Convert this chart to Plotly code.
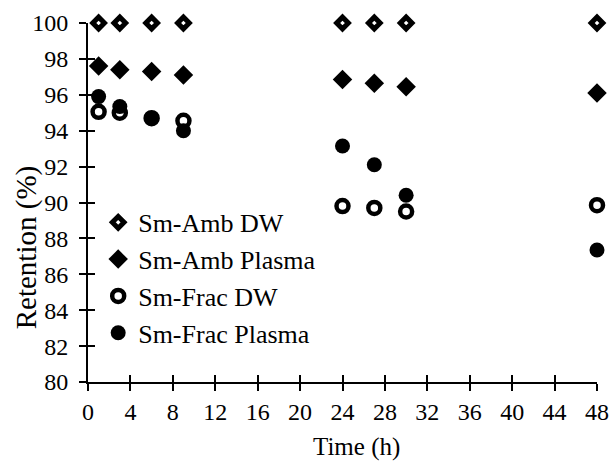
import plotly.graph_objects as go

time_h = [1, 3, 6, 9, 24, 27, 30, 48]
amb_dw = [100, 100, 100, 100, 100, 100, 100, 100]
amb_plasma = [97.6, 97.4, 97.3, 97.1, 96.85, 96.65, 96.45, 96.1]
frac_dw = [95.05, 95.0, 94.7, 94.55, 89.8, 89.7, 89.5, 89.85]
frac_plasma = [95.9, 95.35, 94.7, 94.0, 93.15, 92.1, 90.4, 87.35]

x_ticks = list(range(0, 49, 4))
y_ticks = list(range(80, 101, 2))

font = "Liberation Serif, Times New Roman, serif"
tick_size = 24
text_size = 26

fig = go.Figure()
fig.add_trace(go.Scatter(x=time_h, y=amb_dw, mode="markers", name="Sm-Amb DW",
                         marker=dict(symbol="diamond", size=9, color="white", line=dict(width=5, color="black"))))
fig.add_trace(go.Scatter(x=time_h, y=amb_plasma, mode="markers", name="Sm-Amb Plasma",
                         marker=dict(symbol="diamond", size=15, color="black")))
fig.add_trace(go.Scatter(x=time_h, y=frac_dw, mode="markers", name="Sm-Frac DW",
                         marker=dict(symbol="circle", size=12, color="white", line=dict(width=4.5, color="black"))))
fig.add_trace(go.Scatter(x=time_h, y=frac_plasma, mode="markers", name="Sm-Frac Plasma",
                         marker=dict(symbol="circle", size=15, color="black")))
# invisible trace for crossing (inside) ticks
fig.add_trace(go.Scatter(x=[0], y=[80], mode="markers", marker=dict(opacity=0), showlegend=False,
                         hoverinfo="skip", xaxis="x2", yaxis="y2"))

axis_common = dict(showgrid=False, zeroline=False, linecolor="black", linewidth=2,
                   tickcolor="black", tickwidth=2, ticklen=7, automargin=False,
                   tickfont=dict(family=font, size=tick_size, color="black"))

fig.update_layout(
    width=612, height=464,
    margin=dict(l=88, r=15, t=23, b=82),
    paper_bgcolor="white", plot_bgcolor="white",
    font=dict(family=font, size=tick_size, color="black"),
    showlegend=True,
    legend=dict(x=0.02, y=0.51, xanchor="left", yanchor="top", bgcolor="rgba(0,0,0,0)",
                font=dict(family=font, size=text_size, color="black"), itemsizing="trace",
                itemwidth=30),
    xaxis=dict(range=[0, 48], tickvals=x_ticks, ticks="outside", showline=True, **axis_common),
    yaxis=dict(range=[80, 100], tickvals=y_ticks, ticks="outside", showline=True,
               ticklabelstandoff=6, **axis_common),
    xaxis2=dict(range=[0, 48], tickvals=x_ticks, ticks="inside", showticklabels=False, overlaying="x",
                anchor="y2", side="bottom", showgrid=False, zeroline=False, showline=False,
                tickcolor="black", tickwidth=2, ticklen=7),
    yaxis2=dict(range=[80, 100], tickvals=y_ticks, ticks="inside", showticklabels=False, overlaying="y",
                anchor="x2", side="left", showgrid=False, zeroline=False, showline=False,
                tickcolor="black", tickwidth=2, ticklen=7),
    annotations=[
        dict(text="Time (h)", xref="paper", yref="paper", x=0.528, y=-0.181, xanchor="center",
             yanchor="middle", showarrow=False, font=dict(family=font, size=25, color="black")),
        dict(text="Retention (%)", xref="paper", yref="paper", x=-0.122, y=0.375, xanchor="center",
             yanchor="middle", textangle=-90, showarrow=False,
             font=dict(family=font, size=29, color="black")),
    ],
)
for tr in fig.data[:4]:
    tr.cliponaxis = False

fig.write_html("out.html", config={"displayModeBar": False},
               post_script="document.body.style.margin='0';")
